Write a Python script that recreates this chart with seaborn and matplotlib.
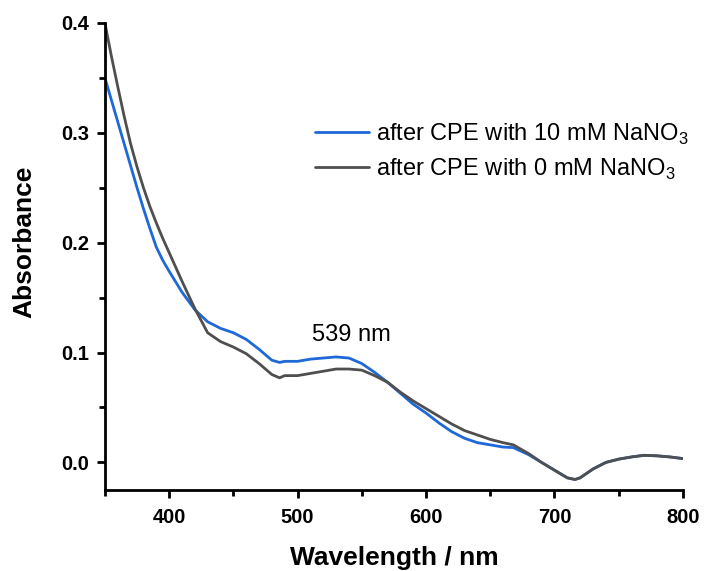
import matplotlib
matplotlib.use("Agg")
import matplotlib.pyplot as plt
import seaborn as sns
import pandas as pd

# Absorbance spectra after cloud point extraction
wl_10mM = [350, 355, 360, 365, 370, 375, 380, 385, 390, 395, 400, 410, 420, 430, 440, 450,
           460, 470, 480, 486, 490, 500, 510, 520, 530, 540, 550, 560, 570, 580, 590,
           600, 610, 620, 630, 640, 650, 660, 668, 680, 690, 700, 710, 716, 720, 730,
           740, 750, 760, 770, 780, 790, 800]
abs_10mM = [0.350, 0.330, 0.310, 0.290, 0.270, 0.250, 0.231, 0.213, 0.196, 0.184, 0.174,
            0.155, 0.139, 0.128, 0.122, 0.118, 0.112, 0.103, 0.093, 0.091, 0.092, 0.092,
            0.094, 0.095, 0.096, 0.095, 0.090, 0.082, 0.073, 0.063, 0.053, 0.045, 0.036,
            0.028, 0.022, 0.018, 0.016, 0.014, 0.0135, 0.007, 0.000, -0.007, -0.014,
            -0.0155, -0.014, -0.006, 0.000, 0.003, 0.005, 0.0065, 0.006, 0.005, 0.0035]

wl_0mM = [350, 355, 360, 365, 370, 375, 380, 385, 390, 395, 400, 410, 420, 430, 440, 450,
          460, 470, 480, 486, 490, 500, 510, 520, 530, 540, 550, 560, 570, 580, 590,
          600, 610, 620, 630, 640, 650, 660, 668, 680, 690, 700, 710, 716, 720, 730,
          740, 750, 760, 770, 780, 790, 800]
abs_0mM = [0.400, 0.370, 0.342, 0.315, 0.290, 0.269, 0.250, 0.233, 0.218, 0.204, 0.191,
           0.165, 0.140, 0.118, 0.110, 0.105, 0.099, 0.090, 0.080, 0.077, 0.079, 0.079,
           0.081, 0.083, 0.085, 0.085, 0.084, 0.079, 0.073, 0.064, 0.056, 0.049, 0.042,
           0.035, 0.029, 0.025, 0.021, 0.018, 0.016, 0.008, 0.000, -0.007, -0.014,
           -0.0155, -0.014, -0.006, 0.000, 0.003, 0.005, 0.0065, 0.006, 0.005, 0.0035]

label_10mM = "after CPE with 10 mM NaNO$_3$"
label_0mM = "after CPE with 0 mM NaNO$_3$"
peak_label = "539 nm"

df = pd.concat([
    pd.DataFrame({"wl": wl_10mM, "A": abs_10mM, "sample": label_10mM}),
    pd.DataFrame({"wl": wl_0mM, "A": abs_0mM, "sample": label_0mM}),
])

sns.set_style("ticks")
plt.rcParams["font.family"] = ["Liberation Sans", "DejaVu Sans"]
plt.rcParams["mathtext.fontset"] = "custom"
plt.rcParams["mathtext.rm"] = "Liberation Sans"
plt.rcParams["text.color"] = "black"
plt.rcParams["axes.labelcolor"] = "black"
plt.rcParams["xtick.color"] = "black"
plt.rcParams["ytick.color"] = "black"

fig = plt.figure(figsize=(7.04, 5.71), dpi=100)
ax = fig.add_axes([0.149, 0.142, 0.821, 0.818])

palette = {label_10mM: "#1f68d8", label_0mM: "#4f4f4f"}
sns.lineplot(data=df, x="wl", y="A", hue="sample", palette=palette,
             linewidth=2, ax=ax, sort=True, estimator=None)

ax.set_xlim(350, 800)
ax.set_ylim(-0.025, 0.4)
ax.set_xticks([400, 500, 600, 700, 800])
ax.set_xticks([350, 450, 550, 650, 750], minor=True)
ax.set_yticks([0.0, 0.1, 0.2, 0.3, 0.4])
ax.set_yticks([0.05, 0.15, 0.25, 0.35], minor=True)
ax.set_yticklabels(["0.0", "0.1", "0.2", "0.3", "0.4"])

for s in ["top", "right"]:
    ax.spines[s].set_visible(False)
for s in ["left", "bottom"]:
    ax.spines[s].set_linewidth(2)
    ax.spines[s].set_color("black")

ax.tick_params(which="major", direction="out", length=6, width=2)
ax.tick_params(which="minor", direction="out", length=4, width=2)
ax.tick_params(axis="y", which="major", pad=5)
ax.tick_params(axis="x", which="major", pad=7)
for lab in ax.get_xticklabels() + ax.get_yticklabels():
    lab.set_fontweight("bold")
    lab.set_fontsize(14.5)

ax.set_xlabel("Wavelength / nm", fontsize=19, fontweight="bold", labelpad=14)
ax.set_ylabel("Absorbance", fontsize=19, fontweight="bold")
ax.yaxis.set_label_coords(-0.118, 0.531)

ax.text(511, 0.116, peak_label, fontsize=17, va="center", ha="left")

leg = ax.legend(loc="upper left", bbox_to_anchor=(0.363, 0.789), frameon=False,
                fontsize=17, handlelength=2.3, handletextpad=0.3, labelspacing=0.43,
                borderpad=0, borderaxespad=0)
leg.set_title(None)

fig.savefig("out.png", dpi=100)
